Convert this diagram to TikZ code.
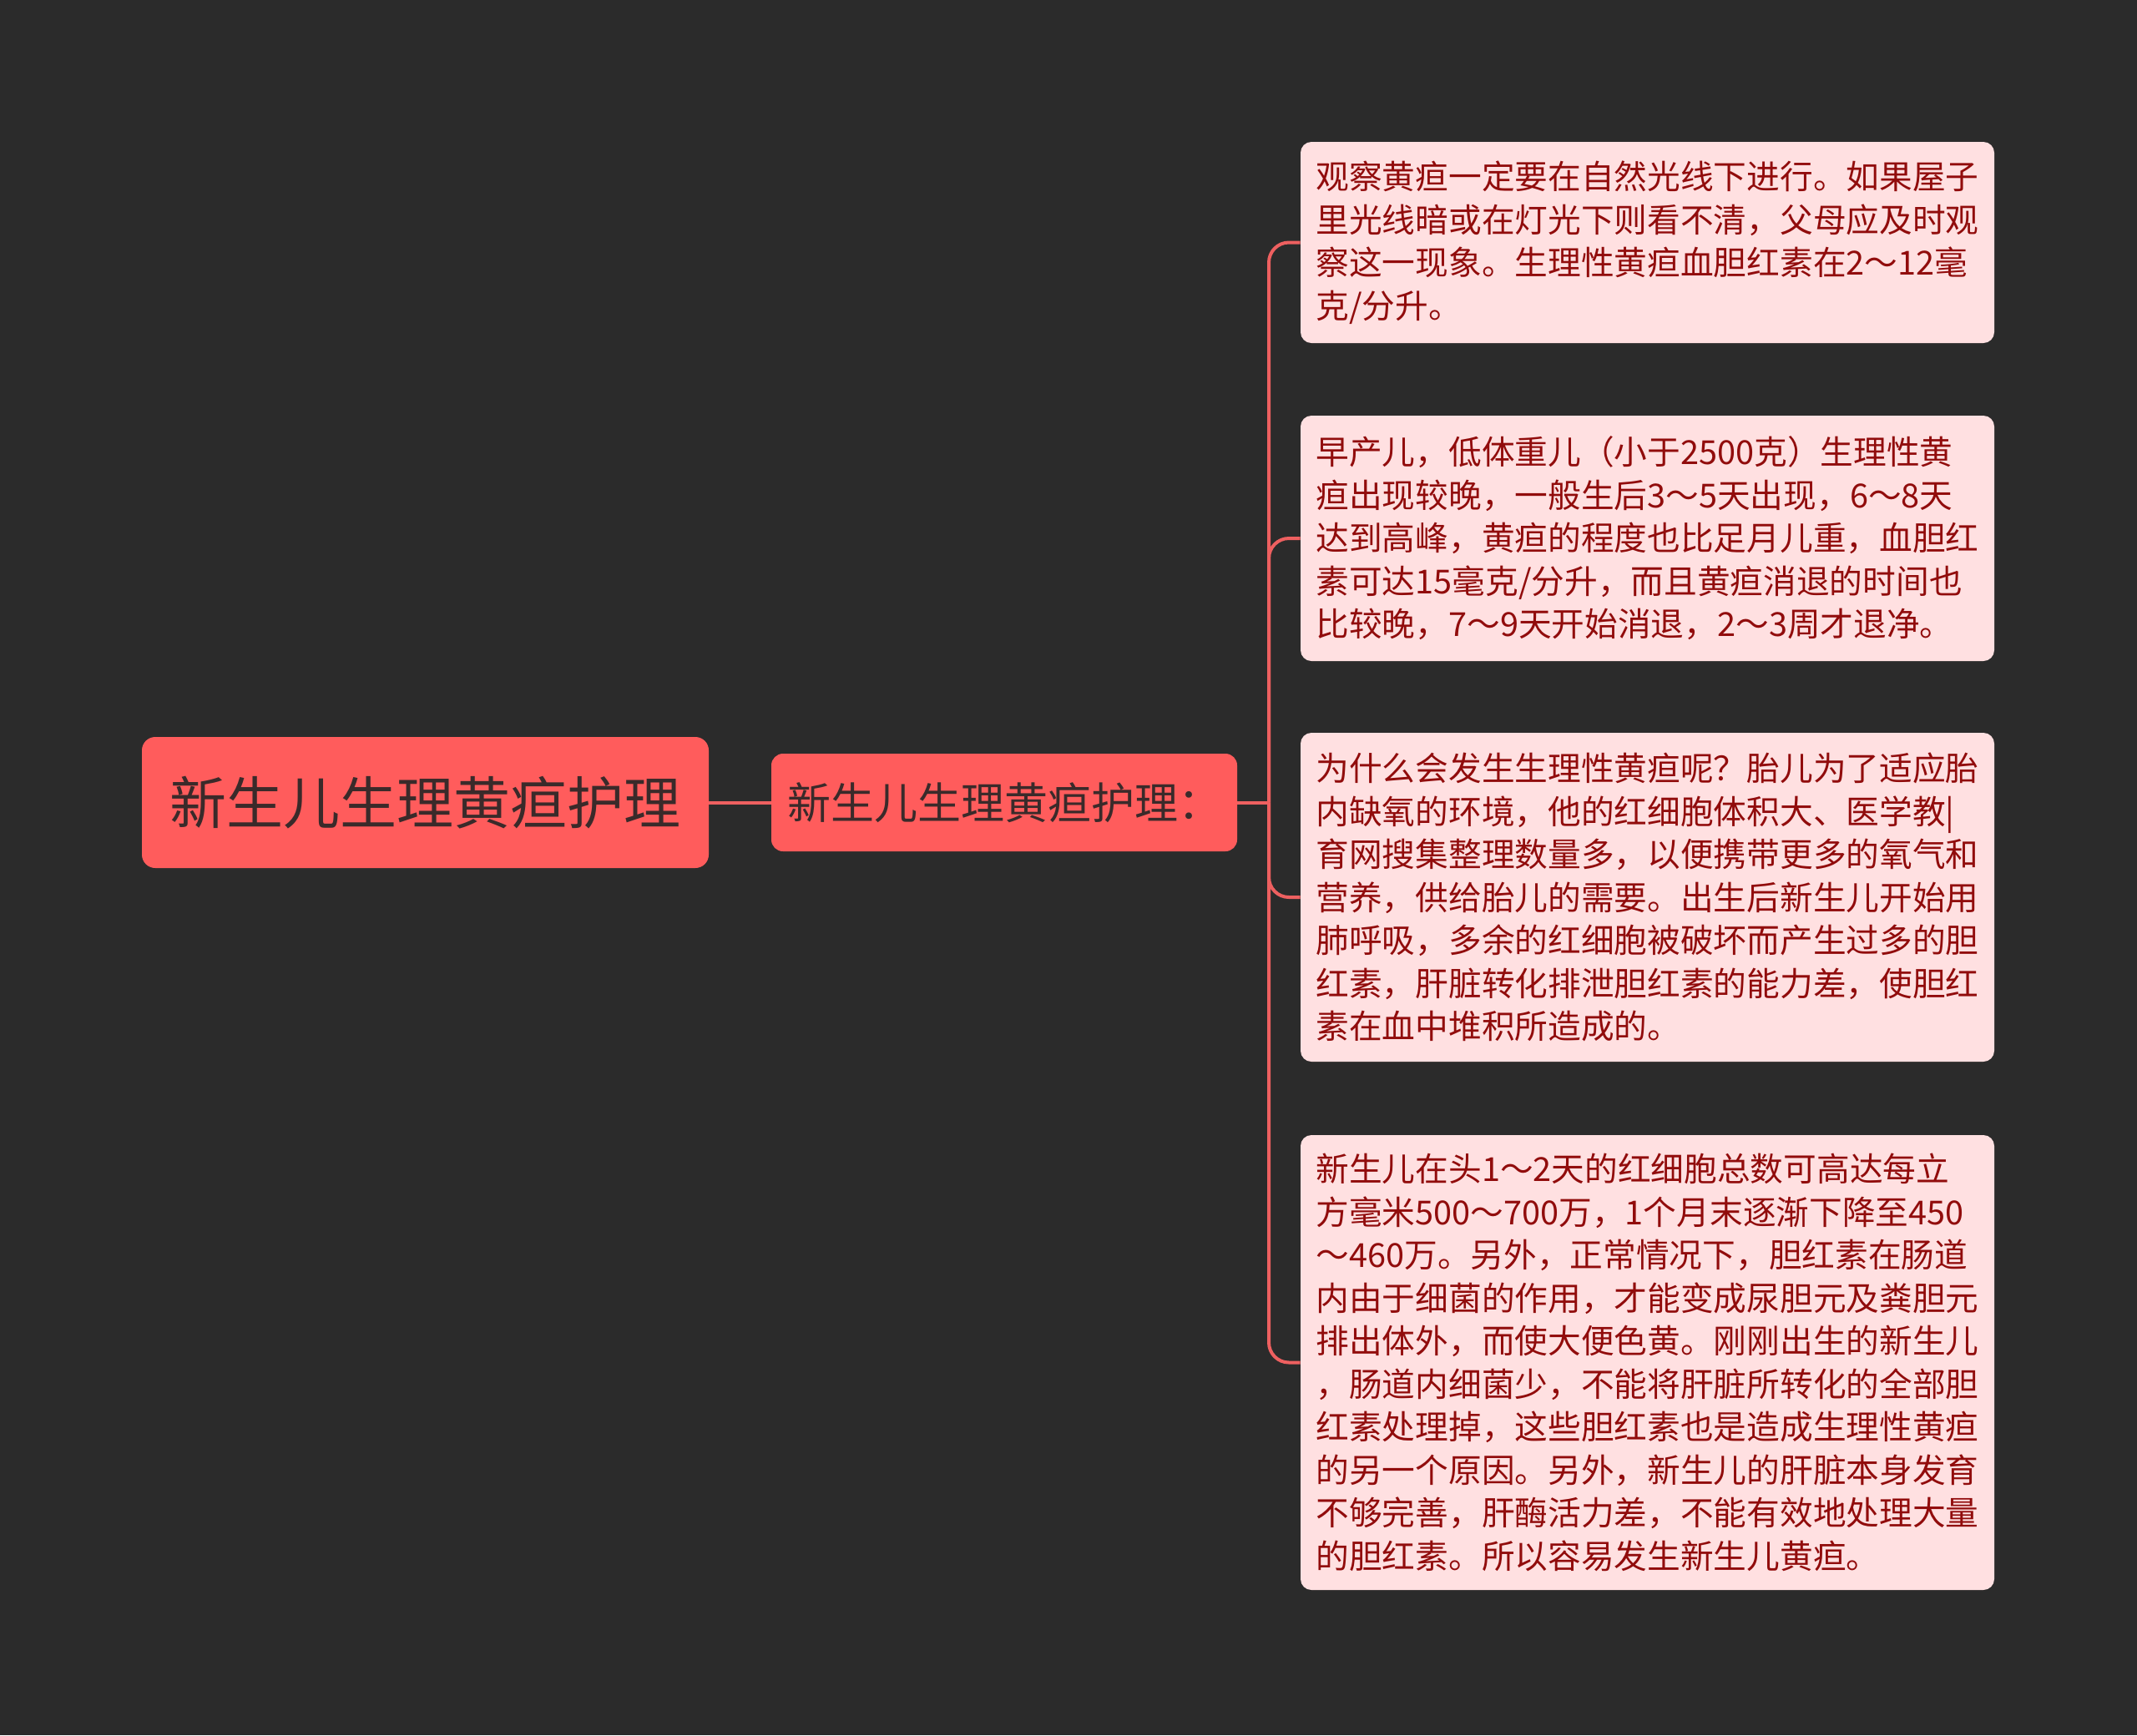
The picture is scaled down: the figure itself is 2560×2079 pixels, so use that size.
\documentclass[tikz,border=0pt]{standalone}
\usepackage{fontspec}
\setmainfont{Noto Sans CJK SC}
\definecolor{bg}{RGB}{43,43,43}
\definecolor{rootfill}{RGB}{255,92,92}
\definecolor{roottext}{RGB}{58,42,42}
\definecolor{leaffill}{RGB}{255,224,225}
\definecolor{leaftext}{RGB}{145,12,12}
\definecolor{conncol}{RGB}{238,96,96}
\tikzset{
  rootbox/.style={fill=rootfill, draw=none, rounded corners=8pt, text=roottext,
    minimum width=339.5pt, minimum height=78.5pt, inner sep=0pt,
    font=\fontsize{34pt}{40pt}\selectfont},
  midbox/.style={fill=rootfill, draw=none, rounded corners=7pt, text=roottext,
    minimum width=279pt, minimum height=58.5pt, inner sep=0pt,
    font=\fontsize{26pt}{31pt}\selectfont},
  leaf/.style={fill=leaffill, draw=none, rounded corners=6.5pt, text=leaftext,
    text width=397pt, inner xsep=9.25pt, inner ysep=0pt, align=left,
    font=\fontsize{19.85pt}{25.75pt}\selectfont},
  conn/.style={draw=conncol, line width=2pt}
}
\begin{document}
\begin{tikzpicture}[x=0.5pt,y=-0.5pt]
\useasboundingbox[fill=bg] (0,0) rectangle (2560,2079);
\node[rootbox] (root) at (509.5,961.5) {新生儿生理黄疸护理};
\node[midbox] (mid) at (1203,961.5) {新生儿生理黄疸护理：};
\node[leaf, minimum height=120.5pt] (l1) at (1973.5,290.5) {观察黄疸一定要在自然光线下进行。如果屋子\\里光线暗或在灯光下则看不清，父母应及时观\\察这一现象。生理性黄疸血胆红素在2～12毫\\克/分升。};
\node[leaf, minimum height=147pt] (l2) at (1973.5,645) {早产儿，低体重儿（小于2500克）生理性黄\\疸出现较晚，一般生后3～5天出现，6～8天\\达到高峰，黄疸的程度也比足月儿重，血胆红\\素可达15毫克/分升，而且黄疸消退的时间也\\比较晚，7～9天开始消退，2～3周才退净。};
\node[leaf, minimum height=197pt] (l3) at (1973.5,1075) {为什么会发生生理性黄疸呢？胎儿为了适应胎\\内缺氧的环境，他的红细胞体积大、医学教|\\育网搜集整理数量多，以便携带更多的氧气和\\营养，供给胎儿的需要。出生后新生儿开始用\\肺呼吸，多余的红细胞被破坏而产生过多的胆\\红素，肝脏转化排泄胆红素的能力差，使胆红\\素在血中堆积所造成的。};
\node[leaf, minimum height=272.5pt] (l4) at (1973.5,1632.5) {新生儿在头1～2天的红细胞总数可高达每立\\方毫米500～700万，1个月末逐渐下降至450\\～460万。另外，正常情况下，胆红素在肠道\\内由于细菌的作用，才能变成尿胆元及粪胆元\\排出体外，而使大便色黄。刚刚出生的新生儿\\，肠道内细菌少，不能将肝脏所转化的全部胆\\红素处理掉，这些胆红素也是造成生理性黄疸\\的另一个原因。另外，新生儿的肝脏本身发育\\不够完善，肝酶活力差，不能有效地处理大量\\的胆红素。所以容易发生新生儿黄疸。};
\coordinate (j) at (1520,961.5);
\draw[conn] (root.east) -- (mid.west);
\draw[conn] (mid.east) -- (j);
\foreach \n in {l1,l2,l3,l4} \draw[conn, rounded corners=12pt] (j) |- (\n.west);
\end{tikzpicture}
\end{document}
